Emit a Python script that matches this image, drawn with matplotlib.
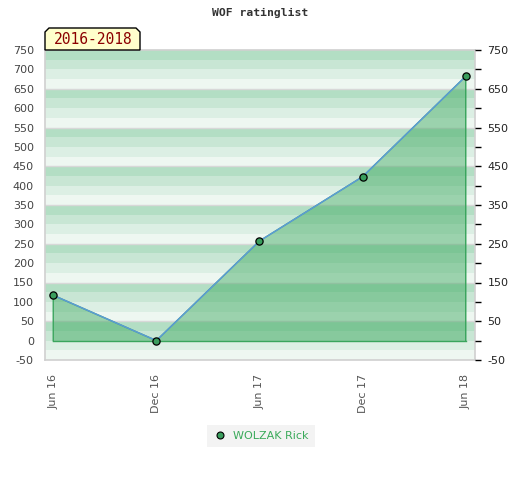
import numpy as np
import matplotlib.pyplot as plt
from matplotlib.patches import Polygon
from matplotlib.lines import Line2D

plt.rcParams['axes.unicode_minus'] = False

# data
dates = ['Jun 16', 'Dec 16', 'Jun 17', 'Dec 17', 'Jun 18']
rating = [117, 0, 257, 423, 682]
player = 'WOLZAK Rick'
period = '2016-2018'

left_ticks = np.arange(-50, 751, 50)
right_ticks = np.arange(-50, 751, 100)
band_cols = ['#eef7f1', '#dcefe4', '#c8e6d4', '#b3dec4']  # bottom -> top in each 100 block

W, H = 520, 480
fig = plt.figure(figsize=(W / 100, H / 100), dpi=100)
ax = fig.add_axes([45 / W, 1 - 360 / H, 430 / W, 310 / H])

# striped background
for i, y0 in enumerate(range(-50, 750, 25)):
    ax.axhspan(y0, y0 + 25, color=band_cols[i % 4], lw=0, zorder=0)
for y in range(50, 750, 100):
    ax.axhline(y, color='#d8d8d8', lw=1, zorder=0.5)

x = np.arange(len(dates))
ax.fill_between(x, 0, rating, color='#3fa961', alpha=0.47, lw=0, zorder=1)
ax.plot(np.r_[x[0], x, x[-1]], np.r_[0, rating, 0], color='#3aa55d', lw=1, zorder=1.5)
ax.plot([x[0], x[-1]], [0, 0], color='#3aa55d', lw=1, zorder=1.5)
ax.plot(x, rating, color='#5b9bd5', lw=1.1, zorder=2)
ax.plot(x, rating, 'o', ms=5.2, mfc='#3a9d5d', mec='black', mew=0.9, zorder=3)

ax.set_xlim(-0.08, 4.09)
ax.set_ylim(-50, 750)
ax.set_yticks(left_ticks)
ax.set_xticks(x)
ax.set_xticklabels(dates, rotation=90)
ax.tick_params(axis='y', length=0, pad=8, labelsize=8, labelcolor='#444444')
ax.tick_params(axis='x', length=0, pad=10, labelsize=8, labelcolor='#555555')
for s in ax.spines.values():
    s.set_color('#d0d0d0')
    s.set_linewidth(1.2)

ax2 = ax.twinx()
ax2.set_ylim(-50, 750)
ax2.set_yticks(right_ticks)
ax2.set_yticks(np.arange(0, 751, 100), minor=True)
ax2.tick_params(axis='y', which='both', length=4, width=1, color='black',
                labelsize=8, labelcolor='#222222', pad=5)
for s in ax2.spines.values():
    s.set_visible(False)

fig.text(260 / W, 1 - 13 / H, 'WOF ratinglist', ha='center', va='center',
         family='DejaVu Sans Mono', fontweight='bold', fontsize=8.2, color='#333333')

# period tag with bevelled corners
px = [45, 45, 49, 136, 140, 140]
py = [50, 32, 28, 28, 32, 50]
tag = Polygon([(a / W, 1 - b / H) for a, b in zip(px, py)], closed=True,
              transform=fig.transFigure, facecolor='#ffffcc', edgecolor='black', lw=1)
fig.patches.append(tag)
fig.text(93 / W, 1 - 40 / H, period, ha='center', va='center',
         family='DejaVu Sans Mono', fontsize=10.5, color='#8b0000')

h = Line2D([], [], ls='none', marker='o', ms=5, mfc='#3a9d5d', mec='black', mew=0.8)
leg = fig.legend([h], [player], loc='center', bbox_to_anchor=(261 / W, 1 - 436 / H),
                 frameon=True, fancybox=False, fontsize=8, handletextpad=0.5,
                 handlelength=1.3, borderpad=0.55)
leg.get_frame().set_facecolor('#f0f0f0')
leg.get_frame().set_edgecolor('none')
for t in leg.get_texts():
    t.set_color('#3aaa5a')

fig.savefig('out.png', dpi=100)
